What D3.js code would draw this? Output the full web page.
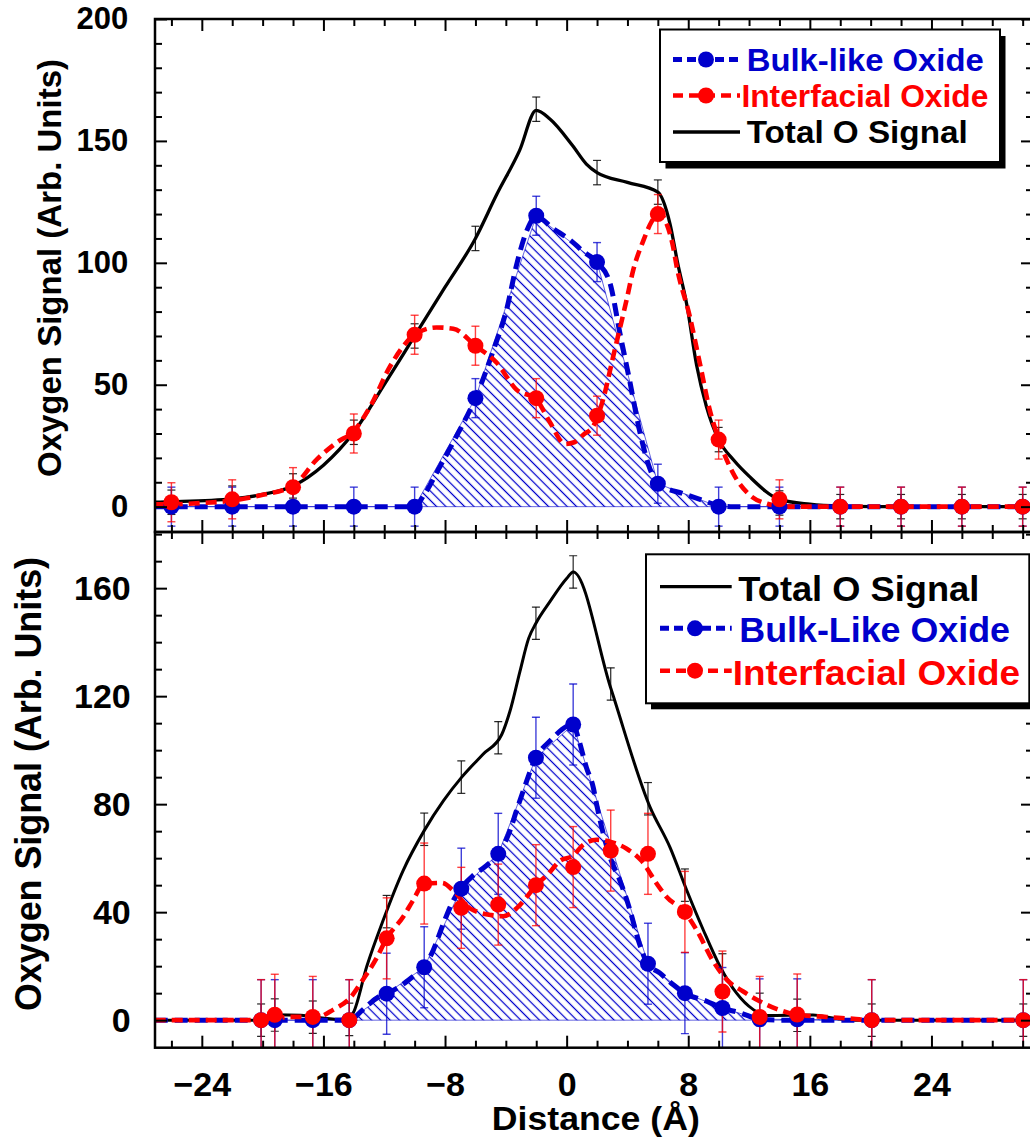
<!DOCTYPE html>
<html>
<head>
<meta charset="utf-8">
<script src="https://cdn.jsdelivr.net/npm/d3@7"></script>
<style>
html, body { margin: 0; padding: 0; background: #fff; }
svg { display: block; font-family: "Liberation Sans", Arial, Helvetica, sans-serif; font-weight: bold; }
</style>
</head>
<body>
<svg id="chart" width="1030" height="1138"></svg>
<script>
// ---- top panel: measured points (distance in Angstrom) ----
const topX = [-26, -22, -18, -14, -10, -6, -2, 2, 6, 10, 14, 18, 22, 26, 30];
const topBulk = [0, 0, 0, 0, 0, 44.5, 119.3, 100.3, 9.4, 0, 0, 0, 0, 0, 0];
const topInterfacial = [1.8, 3, 8, 30, 70.5, 66, 44.5, 37.3, 120, 27.5, 3, 0, 0, 0, 0];
const topTotal = [1.8, 3.5, 8.5, 30.5, 70, 110, 163, 137, 129, 27.5, 1.5, 0, 0, 0, 0];
const topBulkErr = 8, topInterfacialErr = 8, topTotalErr = 5;

// top panel: fitted curves, [distance, signal]
const topTotalFit = [[-27.1, 1.8], [-26, 2], [-22, 3.2], [-20, 5], [-18, 8.5], [-16, 17], [-14, 30.5], [-12, 50],
  [-10, 70], [-8, 90], [-6, 110], [-4.6, 128], [-3.1, 146], [-2, 162.5], [-1.1, 159], [0.4, 148], [1.3, 140.5],
  [2, 137], [4, 133], [6, 129], [6.8, 116], [7.3, 100], [7.9, 83], [8.55, 58], [9.2, 41], [10, 27.5], [11, 19],
  [12, 12.5], [14, 3], [16, 1], [18, 0.2], [20, 0], [30.7, 0]];
const topBulkFit = [[-27.1, 0], [-10, 0], [-9.4, 4.6], [-8.3, 16.9], [-7.24, 29], [-6, 44.5], [-4.8, 64.5],
  [-3.95, 80.8], [-3.3, 99], [-2.6, 113.5], [-2, 119], [-0.88, 114], [0.22, 109.4], [1.1, 104.6], [2, 100.3],
  [2.85, 91.7], [3.5, 71.3], [4.17, 50.9], [4.82, 30.5], [5.48, 15.5], [6, 9.4], [7.67, 5.3], [8.77, 3],
  [10, 0.5], [11, 0], [30.7, 0]];
const topInterfacialFit = [[-27.1, 1], [-26, 1], [-24, 1.5], [-22, 2.5], [-20.2, 4.6], [-18, 8.5], [-16.4, 19.6],
  [-15.1, 26.4], [-14, 31], [-12.9, 41.3], [-11.6, 57.7], [-10, 70.5], [-8.56, 73.5], [-7.46, 73], [-6, 66],
  [-4.6, 59], [-3.3, 48], [-2, 44], [-1.1, 34.6], [-0.1, 25.7], [0.5, 26.4], [1.1, 29.5], [1.75, 33], [2.4, 44],
  [3.07, 61.8], [3.95, 85], [4.38, 97], [5.04, 109], [5.6, 117], [6.1, 120.5], [6.58, 116], [7, 106.7],
  [7.24, 98.5], [8.1, 78], [8.8, 57.7], [9.4, 40], [10, 27.8], [10.9, 14.3], [12.07, 4.6], [13.2, 1.2],
  [14.5, 0], [30.7, 0]];

// ---- bottom panel: measured points ----
const botX = [-20.1, -19.2, -16.7, -14.3, -11.84, -9.37, -6.93, -4.5, -2.02, 0.43, 2.9, 5.35, 7.78, 10.25, 12.7, 15.17, 20.07, 30.04];
const botBulk = [0, 0, 0, 0, 9.8, 19.6, 48.7, 61.6, 97.2, 109.5, null, 20.9, 10, 4.5, 0.3, 0.3, 0, 0];
const botInterfacial = [0, 2, 1.2, 0, 30.3, 50.6, 41.6, 42.8, 50, 56.7, 62.8, 61.6, 40.1, 10.6, 1.2, 2.1, 0, 0];
const botTotal = [0, 1.9, 1.1, 0.3, 40.2, 70.7, 90, 104.6, 147, 166, 124.5, 82, 50, 18.6, 4, 1.8, 0, 0];
const botBulkErr = 15, botInterfacialErr = 15, botTotalErr = 6;

// bottom panel: fitted curves
const botTotalFit = [[-27.1, 0], [-20.5, 0], [-19.2, 2], [-17.5, 1.8], [-16.7, 1.2], [-15, 0.3], [-14.5, 0.5],
  [-14.04, 2.7], [-13.15, 19.9], [-12.07, 37], [-10.75, 55.5], [-9.37, 70.2], [-8.1, 81.3], [-6.9, 90],
  [-5.5, 98.5], [-4.27, 105.8], [-3.73, 114.4], [-3.07, 129.2], [-2.5, 141.4], [-2.02, 147], [-1.1, 155],
  [0, 163.6], [0.43, 166], [2.9, 123], [5.48, 79], [6.8, 64], [7.9, 48.1], [8.99, 33.4], [10.09, 19.9],
  [11.18, 10], [12.28, 3.9], [13.16, 1.7], [16.2, 1.9], [17.5, 0.8], [19, 0], [30.7, 0]];
const botBulkFit = [[-27.1, 0], [-14.3, 0], [-13.4, 3.9], [-12.5, 8.2], [-11.84, 9.8], [-10.97, 12.5],
  [-10.1, 16.2], [-9.37, 19.6], [-8.77, 26], [-8.1, 35.9], [-7.56, 43.2], [-6.97, 48.7], [-6.14, 53.6],
  [-5.26, 57.3], [-4.5, 61.6], [-3.73, 70.2], [-3.3, 77.6], [-2.85, 85], [-2.02, 97.2], [-1.1, 103.4],
  [0.43, 109.5], [0.76, 104.6], [1.3, 93.6], [1.75, 86.2], [1.97, 80], [2.85, 60.4], [3.5, 51.8],
  [4.17, 40.7], [4.71, 29.7], [5.33, 20.9], [6.14, 17.4], [7.02, 13.1], [7.78, 10], [9.21, 7], [10.24, 4.5],
  [11.4, 2.7], [12.7, 0.4], [14, 0], [30.7, 0]];
const botInterfacialFit = [[-27.1, 0], [-20, 0], [-18.2, 1.2], [-16.4, 1.2], [-15.35, 3.9], [-14.25, 8.2],
  [-13.4, 15], [-12.5, 23], [-11.84, 30.3], [-10.75, 38.3], [-10.1, 44.4], [-9.37, 50.6], [-8.2, 50.8],
  [-7.46, 48], [-6.36, 41.4], [-4.93, 38.9], [-4.17, 38.5], [-3.3, 41.4], [-2.63, 45.6], [-2.02, 50],
  [-1.3, 53.6], [-0.44, 59], [0.43, 61], [1.1, 65], [1.97, 66.8], [2.9, 66], [3.95, 63.5], [4.93, 59],
  [5.92, 50.6], [6.58, 45.6], [7.78, 40], [8.55, 33.4], [9.65, 21.7], [10.53, 15], [11.62, 10.6], [12.7, 7],
  [13.8, 4.2], [15.17, 2], [17.1, 1.2], [18.86, 0.5], [20, 0], [30.7, 0]];

// ---- ticks and labels ----
const xMajor = [-24, -16, -8, 0, 8, 16, 24];
const topYMajor = [0, 50, 100, 150, 200];
const botYMajor = [0, 40, 80, 120, 160];
const topLegendLabels = ["Bulk-like Oxide", "Interfacial Oxide", "Total O Signal"];
const botLegendLabels = ["Total O Signal", "Bulk-Like Oxide", "Interfacial Oxide"];
const yTitle = "Oxygen Signal (Arb. Units)";
const xTitle = "Distance (Å)";

const blue = "#0000cc", red = "#ff0000";
const plotLeft = 155, plotRight = 1033;

const svg = d3.select("#chart");
const defs = svg.append("defs");

const x = d3.scaleLinear().domain([-27.08, 30.68]).range([plotLeft, plotRight]);
const xMinor = d3.range(-26, 31, 2).filter(v => v % 8 !== 0);

// diagonal hatch for the bulk-like area
const hatchSize = 6.6;
defs.append("pattern")
    .attr("id", "hatch")
    .attr("patternUnits", "userSpaceOnUse")
    .attr("width", hatchSize).attr("height", hatchSize)
    .attr("patternTransform", "rotate(45)")
  .append("line")
    .attr("x1", 0).attr("x2", hatchSize)
    .attr("y1", hatchSize / 2).attr("y2", hatchSize / 2)
    .attr("stroke", blue).attr("stroke-width", 1.25);

function pairs(xs, vs) {
    return xs.map((xv, i) => [xv, vs[i]]).filter(d => d[1] != null);
}

function tickAxis(axisFn, scale, values, size, transform, label) {
    const a = axisFn(scale).tickValues(values).tickSize(-size).tickSizeOuter(0);
    if (label) a.tickPadding(label.pad).tickFormat(d3.format("d"));
    else a.tickFormat("");
    const gg = svg.append("g").attr("transform", transform).call(a);
    gg.attr("font-family", null).attr("font-size", label ? label.size : null);
    gg.select(".domain").remove();
    gg.selectAll(".tick line").attr("stroke", "#000").attr("stroke-width", 2);
    gg.selectAll(".tick text").attr("fill", "#000").attr("font-weight", "bold");
    return gg;
}

function errorBars(g, pts, y, err, color, capW, width, opacity) {
    const eb = g.append("g").attr("stroke", color).attr("stroke-width", width).attr("stroke-opacity", opacity);
    pts.forEach(d => {
        const cx = x(d[0]), yt = y(d[1] + err), yb = y(d[1] - err);
        eb.append("line").attr("x1", cx).attr("x2", cx).attr("y1", yt).attr("y2", yb);
        eb.append("line").attr("x1", cx - capW / 2).attr("x2", cx + capW / 2).attr("y1", yt).attr("y2", yt);
        eb.append("line").attr("x1", cx - capW / 2).attr("x2", cx + capW / 2).attr("y1", yb).attr("y2", yb);
    });
}

function drawPanel(p) {
    const y = d3.scaleLinear().domain(p.yDomain).range([p.y1, p.y0]);
    const clipId = "clip-" + p.name;
    defs.append("clipPath").attr("id", clipId).append("rect")
        .attr("x", plotLeft).attr("y", p.y0)
        .attr("width", plotRight - plotLeft).attr("height", p.y1 - p.y0);
    const plot = svg.append("g").attr("clip-path", `url(#${clipId})`);

    const bulkPts = pairs(p.xs, p.bulk);
    const interPts = pairs(p.xs, p.inter);
    const totalPts = pairs(p.xs, p.total);

    // hatched bulk-like area
    const area = d3.area().x(d => x(d[0])).y0(y(0)).y1(d => y(d[1]));
    plot.append("path").datum(bulkPts).attr("d", area)
        .attr("fill", "url(#hatch)").attr("stroke", blue)
        .attr("stroke-width", 1).attr("stroke-opacity", 0.6);

    const line = d3.line().x(d => x(d[0])).y(d => y(d[1])).curve(d3.curveMonotoneX);

    plot.append("path").datum(p.totalFit).attr("d", line)
        .attr("fill", "none").attr("stroke", "#000").attr("stroke-width", p.blackW)
        .attr("stroke-linejoin", "round");
    errorBars(plot, totalPts, y, p.totalErr, "#000", 8, 1.2, 0.85);

    plot.append("path").datum(p.bulkFit).attr("d", line)
        .attr("fill", "none").attr("stroke", blue).attr("stroke-width", 5)
        .attr("stroke-dasharray", "13,7");
    plot.append("path").datum(p.interFit).attr("d", line)
        .attr("fill", "none").attr("stroke", red).attr("stroke-width", 4.6)
        .attr("stroke-dasharray", "11,6");

    errorBars(plot, bulkPts, y, p.bulkErr, blue, 8, 1.4, 0.75);
    errorBars(plot, interPts, y, p.interErr, red, 8, 1.4, 0.75);

    plot.append("g").selectAll("circle").data(bulkPts).join("circle")
        .attr("cx", d => x(d[0])).attr("cy", d => y(d[1])).attr("r", 8).attr("fill", blue);
    plot.append("g").selectAll("circle").data(interPts).join("circle")
        .attr("cx", d => x(d[0])).attr("cy", d => y(d[1])).attr("r", 8).attr("fill", red);

    // ticks on all four sides, pointing inward
    const yMinor = d3.range(0, p.yDomain[1] + 0.01, 10).filter(v => !p.yMajor.includes(v));
    tickAxis(d3.axisLeft, y, p.yMajor, 12, `translate(${plotLeft},0)`, { pad: p.yPad, size: p.tickFont });
    tickAxis(d3.axisLeft, y, yMinor, 7, `translate(${plotLeft},0)`);
    tickAxis(d3.axisRight, y, p.yMajor, 12, `translate(${plotRight},0)`);
    tickAxis(d3.axisRight, y, yMinor, 7, `translate(${plotRight},0)`);
    tickAxis(d3.axisTop, x, xMajor, 12, `translate(0,${p.y0})`);
    tickAxis(d3.axisTop, x, xMinor, 7, `translate(0,${p.y0})`);
    tickAxis(d3.axisBottom, x, xMajor, 12, `translate(0,${p.y1})`, p.xLabels ? { pad: 24.2, size: 34 } : null);
    tickAxis(d3.axisBottom, x, xMinor, 7, `translate(0,${p.y1})`);

    svg.append("rect")
        .attr("x", plotLeft).attr("y", p.y0)
        .attr("width", plotRight - plotLeft).attr("height", p.y1 - p.y0)
        .attr("fill", "none").attr("stroke", "#000").attr("stroke-width", 2.5);

    svg.append("text")
        .attr("transform", `translate(${p.titleX},${p.titleY}) rotate(-90)`)
        .attr("text-anchor", "middle").attr("font-size", p.titleSize)
        .attr("textLength", p.titleLen).attr("lengthAdjust", "spacingAndGlyphs")
        .text(yTitle);
}

function drawLegend(lg) {
    const g = svg.append("g");
    g.append("rect").attr("x", lg.x + lg.sx).attr("y", lg.y + lg.sy)
        .attr("width", lg.w).attr("height", lg.h).attr("fill", "#000");
    g.append("rect").attr("x", lg.x).attr("y", lg.y)
        .attr("width", lg.w).attr("height", lg.h)
        .attr("fill", "#fff").attr("stroke", "#000").attr("stroke-width", 2);
    lg.labels.forEach((label, i) => {
        const kind = lg.kinds[i];
        const color = kind === "bulk" ? blue : kind === "inter" ? red : "#000";
        const ly = lg.lineY[i];
        const ln = g.append("line").attr("x1", lg.lineX[0]).attr("x2", lg.lineX[1])
            .attr("y1", ly).attr("y2", ly).attr("stroke", color);
        if (kind === "total") {
            ln.attr("stroke-width", 3.3);
        } else {
            ln.attr("stroke-width", kind === "bulk" ? 5 : 4.6)
              .attr("stroke-dasharray", kind === "bulk" ? "9,5" : "10,6");
            g.append("circle").attr("cx", lg.markerX).attr("cy", ly).attr("r", 8).attr("fill", color);
        }
        g.append("text").attr("x", lg.textX[i]).attr("y", ly + lg.baseOff)
            .attr("font-size", lg.font).attr("fill", color)
            .attr("textLength", lg.textLen[i]).attr("lengthAdjust", "spacingAndGlyphs")
            .text(label);
    });
}

drawPanel({
    name: "top", y0: 19, y1: 532, yDomain: [-10.4, 200], yMajor: topYMajor,
    xs: topX, bulk: topBulk, inter: topInterfacial, total: topTotal,
    bulkErr: topBulkErr, interErr: topInterfacialErr, totalErr: topTotalErr,
    bulkFit: topBulkFit, interFit: topInterfacialFit, totalFit: topTotalFit,
    blackW: 3.3, yPad: 26.7, tickFont: 31, xLabels: false,
    titleX: 61, titleY: 268, titleSize: 33, titleLen: 418
});

drawPanel({
    name: "bottom", y0: 532, y1: 1047.7, yDomain: [-10.2, 180.8], yMajor: botYMajor,
    xs: botX, bulk: botBulk, inter: botInterfacial, total: botTotal,
    bulkErr: botBulkErr, interErr: botInterfacialErr, totalErr: botTotalErr,
    bulkFit: botBulkFit, interFit: botInterfacialFit, totalFit: botTotalFit,
    blackW: 3, yPad: 24.3, tickFont: 34, xLabels: true,
    titleX: 41, titleY: 784, titleSize: 36, titleLen: 454
});

drawLegend({
    x: 660, y: 29.5, w: 340, h: 132.5, sx: 5.5, sy: 6.5,
    labels: topLegendLabels, kinds: ["bulk", "inter", "total"],
    lineY: [59.5, 95.5, 132], lineX: [673, 740], markerX: 706,
    textX: [746.7, 741.4, 746.7], textLen: [237, 247, 221], font: 31, baseOff: 11
});

drawLegend({
    x: 646, y: 554.3, w: 383.3, h: 149, sx: 5, sy: 6,
    labels: botLegendLabels, kinds: ["total", "bulk", "inter"],
    lineY: [586.7, 628.3, 670.7], lineX: [660, 731.7], markerX: 695,
    textX: [738.3, 739.3, 732.7], textLen: [241, 270.7, 287.3], font: 35, baseOff: 14
});

svg.append("text")
    .attr("x", 595.8).attr("y", 1130)
    .attr("text-anchor", "middle").attr("font-size", 33)
    .attr("textLength", 208).attr("lengthAdjust", "spacingAndGlyphs")
    .text(xTitle);
</script>
</body>
</html>
